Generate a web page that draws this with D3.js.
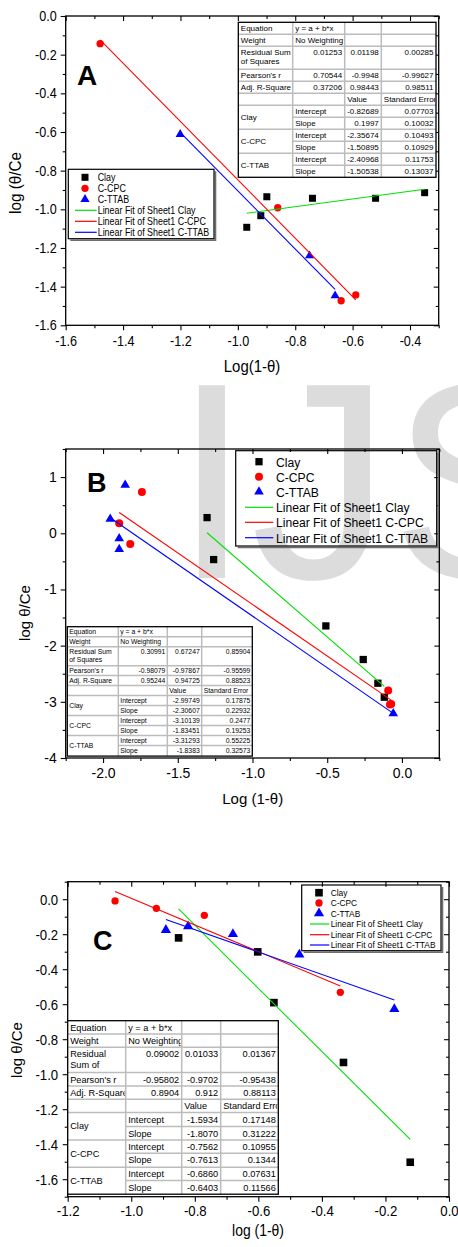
<!DOCTYPE html>
<html>
<head>
<meta charset="utf-8">
<script src="https://cdnjs.cloudflare.com/ajax/libs/d3/7.8.5/d3.min.js"></script>
<style>
  body { margin: 0; background: #fff; }
  svg { display: block; }
  text { font-family: "Liberation Sans", Arial, sans-serif; }
</style>
</head>
<body>
<div id="chart"></div>
<script>
const FONT = '"Liberation Sans", Arial, sans-serif';

// ---------- panel A data ----------
const clayAx = [-0.969, -0.920, -0.899, -0.740, -0.520, -0.349];
const clayAy = [-1.093, -1.033, -0.935, -0.943, -0.943, -0.914];
const cpcAx = [-1.480, -0.861, -0.640, -0.589];
const cpcAy = [-0.143, -0.992, -1.473, -1.443];
const ttabAx = [-1.201, -0.750, -0.661];
const ttabAy = [-0.612, -1.240, -1.447];
const statsA = [
  ["Equation", "y = a + b*x", "", ""],
  ["Weight", "No Weighting", "", ""],
  ["Residual Sum|of Squares", "0.01253", "0.01198", "0.00285"],
  ["Pearson's r", "0.70544", "-0.9948", "-0.99627"],
  ["Adj. R-Square", "0.37206", "0.98443", "0.98511"],
  ["", "", "Value", "Standard Error"]
];
// name, intercept, intercept err, slope, slope err
const paramsA = [
  ["Clay", "-0.82689", "0.07703", "0.1997", "0.10032"],
  ["C-CPC", "-2.35674", "0.10493", "-1.50895", "0.10929"],
  ["C-TTAB", "-2.40968", "0.11753", "-1.50538", "0.13037"]
];
const xTicksA = [-1.6, -1.4, -1.2, -1.0, -0.8, -0.6, -0.4];
const yTicksA = [-1.6, -1.4, -1.2, -1.0, -0.8, -0.6, -0.4, -0.2, 0.0];

// ---------- panel B data ----------
const clayBx = [-1.304, -1.260, -0.509, -0.259, -0.161, -0.118];
const clayBy = [0.279, -0.468, -1.649, -2.247, -2.669, -2.918];
const cpcBx = [-1.740, -1.892, -1.818, -0.092, -0.080, -0.072];
const cpcBy = [0.735, 0.178, -0.190, -2.799, -3.049, -3.040];
const ttabBx = [-1.852, -1.952, -1.892, -1.892, -0.058];
const ttabBy = [0.860, 0.254, -0.094, -0.285, -3.209];
const statsB = [
  ["Equation", "y = a + b*x", "", ""],
  ["Weight", "No Weighting", "", ""],
  ["Residual Sum|of Squares", "0.30991", "0.67247", "0.85904"],
  ["Pearson's r", "-0.98079", "-0.97867", "-0.95599"],
  ["Adj. R-Square", "0.95244", "0.94725", "0.88523"],
  ["", "", "Value", "Standard Error"]
];
const paramsB = [
  ["Clay", "-2.99749", "0.17875", "-2.30607", "0.22932"],
  ["C-CPC", "-3.10139", "0.2477", "-1.83451", "0.19253"],
  ["C-TTAB", "-3.31293", "0.55225", "-1.8383", "0.32573"]
];
const xTicksB = [-2.0, -1.5, -1.0, -0.5, 0.0];
const yTicksB = [-4, -3, -2, -1, 0, 1];

// ---------- panel C data ----------
const clayCx = [-0.851, -0.602, -0.551, -0.332, -0.122];
const clayCy = [-0.221, -0.301, -0.591, -0.933, -1.503];
const cpcCx = [-1.051, -0.921, -0.770, -0.342];
const cpcCy = [-0.010, -0.052, -0.092, -0.532];
const ttabCx = [-0.891, -0.821, -0.680, -0.471, -0.172];
const ttabCy = [-0.176, -0.155, -0.199, -0.317, -0.628];
const statsC = [
  ["Equation", "y = a + b*x", "", ""],
  ["Weight", "No Weighting", "", ""],
  ["Residual|Sum of|Squares", "0.09002", "0.01033", "0.01367"],
  ["Pearson's r", "-0.95802", "-0.9702", "-0.95438"],
  ["Adj. R-Square", "0.8904", "0.912", "0.88113"],
  ["", "", "Value", "Standard Error"]
];
const paramsC = [
  ["Clay", "-1.5934", "0.17148", "-1.8070", "0.31222"],
  ["C-CPC", "-0.7562", "0.10955", "-0.7613", "0.1344"],
  ["C-TTAB", "-0.6860", "0.07631", "-0.6403", "0.11566"]
];
const xTicksC = [-1.2, -1.0, -0.8, -0.6, -0.4, -0.2, 0.0];
const yTicksC = [-1.6, -1.4, -1.2, -1.0, -0.8, -0.6, -0.4, -0.2, 0.0];

const seriesNames = ["Clay", "C-CPC", "C-TTAB"];
const fitNames = ["Linear Fit of Sheet1 Clay", "Linear Fit of Sheet1 C-CPC", "Linear Fit of Sheet1 C-TTAB"];
const markColors = ["#000000", "#ff0000", "#0000ff"];
const fitColors = ["#00e000", "#ff0000", "#0000ff"];

const svg = d3.select("#chart").append("svg").attr("width", 458).attr("height", 1247);

// watermark behind everything
svg.append("text")
  .attr("x", 173).attr("y", 578)
  .attr("fill", "#dcdcdc")
  .style("font-size", "280px")
  .text("IJS");

function put(g, x, y, s, size, o = {}) {
  const t = g.append("text")
    .attr("transform", `translate(${x},${y})` + (o.rot ? ` rotate(${o.rot})` : "") + ` scale(${o.sx || 1},1)`)
    .attr("text-anchor", o.anchor || "start")
    .style("font-size", size + "px")
    .text(s);
  if (o.bold) t.style("font-weight", "bold");
  return t;
}

let clipId = 0;

function drawTable(g, rows, params, t) {
  const c = t.cols;
  const tg = g.append("g");
  const heights = t.rowH;
  const tops = [];
  let acc = t.top;
  heights.forEach(h => { tops.push(acc); acc += h; });
  const bottom = acc;
  tg.append("rect").attr("x", c[0]).attr("y", t.top).attr("width", c[4] - c[0]).attr("height", bottom - t.top).attr("fill", "#fff");

  function cell(ci, top, h, s, align) {
    if (!s) return;
    const id = "clip" + (clipId++);
    tg.append("clipPath").attr("id", id).append("rect")
      .attr("x", c[ci] + 1).attr("y", top + 1).attr("width", c[ci + 1] - c[ci] - 2).attr("height", h - 2);
    const cg = tg.append("g").attr("clip-path", `url(#${id})`);
    s.split("|").forEach((line, li) => {
      const x = align === "end" ? c[ci + 1] - t.pad : c[ci] + t.pad;
      put(cg, x, top + t.base + li * t.gap, line, t.font, { anchor: align, sx: t.sx });
    });
  }
  const isNum = s => s !== "" && !isNaN(+s);

  rows.forEach((r, ri) => {
    r.forEach((s, ci) => cell(ci, tops[ri], heights[ri], s, isNum(s) ? "end" : "start"));
  });
  params.forEach((p, pi) => {
    const r0 = rows.length + pi * 2;
    const gTop = tops[r0], gH = heights[r0] + heights[r0 + 1];
    // group name vertically centred
    const id = "clip" + (clipId++);
    tg.append("clipPath").attr("id", id).append("rect")
      .attr("x", c[0]).attr("y", gTop).attr("width", c[1] - c[0]).attr("height", gH);
    put(tg.append("g").attr("clip-path", `url(#${id})`), c[0] + t.pad, gTop + gH / 2 + t.font * 0.35, p[0], t.font, { sx: t.sx });
    cell(1, tops[r0], heights[r0], "Intercept", "start");
    cell(2, tops[r0], heights[r0], p[1], "end");
    cell(3, tops[r0], heights[r0], p[2], "end");
    cell(1, tops[r0 + 1], heights[r0 + 1], "Slope", "start");
    cell(2, tops[r0 + 1], heights[r0 + 1], p[3], "end");
    cell(3, tops[r0 + 1], heights[r0 + 1], p[4], "end");
  });

  // grid
  const grid = tg.append("g").attr("stroke", "#bcbcbc").attr("stroke-width", 1.5);
  tops.forEach((tp, i) => {
    if (i === 0) return;
    const inGroup = i > rows.length && (i - rows.length) % 2 === 1;
    grid.append("line").attr("x1", inGroup ? c[1] : c[0]).attr("x2", c[4]).attr("y1", tp).attr("y2", tp);
  });
  [1, 2, 3].forEach(ci => grid.append("line").attr("x1", c[ci]).attr("x2", c[ci]).attr("y1", t.top).attr("y2", bottom));
  tg.append("rect").attr("x", c[0]).attr("y", t.top).attr("width", c[4] - c[0]).attr("height", bottom - t.top)
    .attr("fill", "none").attr("stroke", "#000").attr("stroke-width", 1.3);
}

function drawLegend(g, L, symSizes) {
  const [x0, y0, x1, y1] = L.box;
  g.append("path")
    .attr("d", `M${x1 + 1.5},${y0 + 2}V${y1 + 1.5}H${x0 + 2}`)
    .attr("fill", "none").attr("stroke", "#6e6e6e").attr("stroke-width", 1.6);
  g.append("rect").attr("x", x0).attr("y", y0).attr("width", x1 - x0).attr("height", y1 - y0)
    .attr("fill", "none").attr("stroke", "#000").attr("stroke-width", 1.2);
  const types = [d3.symbolSquare, d3.symbolCircle, d3.symbolTriangle];
  seriesNames.forEach((n, i) => {
    g.append("path").attr("d", d3.symbol().type(types[i]).size(symSizes[i])())
      .attr("transform", `translate(${L.symX},${L.rows[i]})`).attr("fill", markColors[i]);
    put(g, L.textX, L.rows[i] + L.font * 0.36, n, L.font, { sx: L.sx });
  });
  fitNames.forEach((n, i) => {
    const yy = L.rows[i + 3];
    g.append("line").attr("x1", L.lineX[0]).attr("x2", L.lineX[1]).attr("y1", yy).attr("y2", yy)
      .attr("stroke", fitColors[i]).attr("stroke-width", 1.2);
    put(g, L.textX, yy + L.font * 0.36, n, L.font, { sx: L.sx });
  });
}

function panel(p) {
  const g = svg.append("g");
  const x = d3.scaleLinear().domain(p.xDomain).range([p.left, p.right]);
  const y = d3.scaleLinear().domain(p.yDomain).range([p.bottom, p.top]);
  const clean = a => {
    a.select(".domain").remove();
    a.selectAll("line").attr("stroke", "#000").attr("stroke-width", 1.1);
  };
  const lab = (a, leftSide) => a.selectAll("text")
    .style("font-size", p.tick + "px").style("font-family", FONT).attr("fill", "#000")
    .attr("transform", `scale(${p.sx},1)`)
    .each(function () {
      if (leftSide) d3.select(this).attr("x", -(5 + p.yPad) / p.sx);
    });

  g.append("g").attr("transform", `translate(0,${p.bottom})`)
    .call(d3.axisBottom(x).tickValues(p.xTicks).tickSize(5).tickPadding(p.xPad).tickFormat(p.xFmt))
    .call(clean).call(a => lab(a, false));
  g.append("g").attr("transform", `translate(0,${p.bottom})`)
    .call(d3.axisBottom(x).tickValues(p.xMinor).tickSize(3).tickFormat("")).call(clean);
  g.append("g").attr("transform", `translate(0,${p.top})`)
    .call(d3.axisTop(x).tickValues(p.xTicks).tickSize(-5).tickFormat("")).call(clean);
  g.append("g").attr("transform", `translate(0,${p.top})`)
    .call(d3.axisTop(x).tickValues(p.xMinor).tickSize(-3).tickFormat("")).call(clean);

  g.append("g").attr("transform", `translate(${p.left},0)`)
    .call(d3.axisLeft(y).tickValues(p.yTicks).tickSize(5).tickPadding(p.yPad).tickFormat(p.yFmt))
    .call(clean).call(a => lab(a, true));
  g.append("g").attr("transform", `translate(${p.left},0)`)
    .call(d3.axisLeft(y).tickValues(p.yMinor).tickSize(3).tickFormat("")).call(clean);
  g.append("g").attr("transform", `translate(${p.right},0)`)
    .call(d3.axisRight(y).tickValues(p.yTicks).tickSize(-5).tickFormat("")).call(clean);
  g.append("g").attr("transform", `translate(${p.right},0)`)
    .call(d3.axisRight(y).tickValues(p.yMinor).tickSize(-3).tickFormat("")).call(clean);

  g.append("rect").attr("x", p.left).attr("y", p.top).attr("width", p.right - p.left).attr("height", p.bottom - p.top)
    .attr("fill", "none").attr("stroke", "#000").attr("stroke-width", 1.3);

  // points
  const types = [d3.symbolSquare, d3.symbolCircle, d3.symbolTriangle];
  p.series.forEach((s, i) => {
    g.append("g").selectAll("path").data(d3.zip(s[0], s[1])).join("path")
      .attr("d", d3.symbol().type(types[i]).size(p.sym[i])())
      .attr("transform", d => `translate(${x(d[0])},${y(d[1])})`)
      .attr("fill", markColors[i]);
  });
  // fitted lines from table intercept/slope over each series' x range
  const line = d3.line().x(d => x(d[0])).y(d => y(d[1]));
  p.series.forEach((s, i) => {
    const a = +p.params[i][1], b = +p.params[i][3];
    const ext = d3.extent(s[0]);
    g.append("path").attr("d", line(ext.map(v => [v, a + b * v])))
      .attr("fill", "none").attr("stroke", fitColors[i]).attr("stroke-width", 1.1);
  });

  drawLegend(g, p.legend, p.sym);
  drawTable(g, p.stats, p.params, p.table);

  put(g, p.letter[0], p.letter[1], p.letter[2], p.letter[3], { bold: true });
  put(g, p.yTitle[0], p.yTitle[1], p.yTitle[2], p.yTitle[3], { rot: -90, anchor: "middle", sx: p.yTitle[4] });
  put(g, p.xTitle[0], p.xTitle[1], p.xTitle[2], p.xTitle[3], { anchor: "middle", sx: p.xTitle[4] });
}

const f1 = d => d.toFixed(1);

panel({
  left: 65.7, right: 438.7, top: 16, bottom: 325.3,
  xDomain: [-1.6, -0.3], yDomain: [-1.6, 0],
  xTicks: xTicksA, xMinor: d3.range(-1.5, -0.25, 0.2),
  yTicks: yTicksA, yMinor: d3.range(-1.5, 0, 0.2),
  xFmt: f1, yFmt: f1, tick: 14.5, sx: 0.87, xPad: 5, yPad: 4,
  series: [[clayAx, clayAy], [cpcAx, cpcAy], [ttabAx, ttabAy]],
  params: paramsA, stats: statsA, sym: [49, 42, 36],
  legend: { box: [68.3, 169.3, 214, 238.7], symX: 85, textX: 97.7, lineX: [75, 96.7],
            rows: [177.3, 188.3, 199.3, 210.3, 221.3, 232.3], font: 10, sx: 0.89 },
  table: { cols: [238.3, 292.7, 344.7, 381.3, 436], top: 22.3,
           rowH: [12, 12, 23, 12, 12, 12, 12, 12, 12, 12, 12, 12], font: 8, base: 8.8, gap: 9.3, pad: 2.5, sx: 1 },
  letter: [77, 85, "A", 28],
  yTitle: [20.5, 183, "log (θ/Ce", 17, 0.9],
  xTitle: [252, 372, "Log(1-θ)", 17, 0.88]
});

panel({
  left: 65.7, right: 439.3, top: 449, bottom: 758,
  xDomain: [-2.25, 0.25], yDomain: [-4, 1.5],
  xTicks: xTicksB, xMinor: [-2.25, -1.75, -1.25, -0.75, -0.25, 0.25],
  yTicks: yTicksB, yMinor: [-3.5, -2.5, -1.5, -0.5, 0.5, 1.5],
  xFmt: f1, yFmt: d => d.toFixed(0), tick: 14, sx: 1, xPad: 5, yPad: 4,
  series: [[clayBx, clayBy], [cpcBx, cpcBy], [ttabBx, ttabBy]],
  params: paramsB, stats: statsB, sym: [53, 50, 40],
  legend: { box: [235.7, 450.7, 436.7, 546], symX: 259, textX: 276, lineX: [245, 273.3],
            rows: [461.7, 476.7, 491.7, 507.3, 522.3, 537.7], font: 13.5, sx: 0.9 },
  table: { cols: [67.3, 118.3, 167.3, 201.7, 252.3], top: 626.7,
           rowH: [10, 10, 19, 9.7, 10, 10, 10, 10, 10, 10, 10, 10.7], font: 6.8, base: 7.2, gap: 7.7, pad: 2, sx: 1 },
  letter: [87, 492, "B", 27],
  yTitle: [30, 613, "log θ/Ce", 15, 1],
  xTitle: [252.7, 803.5, "Log (1-θ)", 15, 1]
});

panel({
  left: 67.7, right: 449, top: 881.7, bottom: 1196.7,
  xDomain: [-1.2, 0], yDomain: [-1.7, 0.1],
  xTicks: xTicksC, xMinor: d3.range(-1.1, 0, 0.2),
  yTicks: yTicksC, yMinor: d3.range(-1.7, 0.15, 0.2),
  xFmt: f1, yFmt: f1, tick: 15, sx: 0.88, xPad: 4, yPad: 4.5,
  series: [[clayCx, clayCy], [cpcCx, cpcCy], [ttabCx, ttabCy]],
  params: paramsC, stats: statsC, sym: [58, 42, 45],
  legend: { box: [301.7, 885, 441, 950.7], symX: 319, textX: 330.7, lineX: [310, 329.3],
            rows: [892.7, 903, 913.3, 924, 934.7, 945], font: 9.3, sx: 0.9 },
  table: { cols: [67.7, 125.7, 181.7, 220.7, 278.3], top: 1020.7,
           rowH: [13.3, 13.3, 25.3, 13.3, 13.3, 13.4, 14, 13.3, 13.3, 14, 13.4, 13.6], font: 9.2, base: 10, gap: 10.6, pad: 2.5, sx: 1 },
  letter: [93, 950, "C", 27],
  yTitle: [21.5, 1050, "log θ/Ce", 15, 1],
  xTitle: [258, 1236, "log (1-θ)", 17, 0.82]
});
</script>
</body>
</html>
